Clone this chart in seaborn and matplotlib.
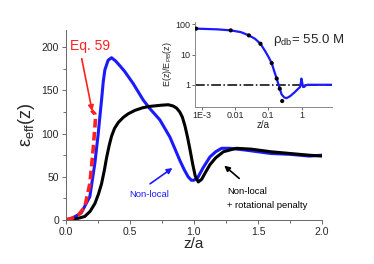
import numpy as np
import pandas as pd
import matplotlib
matplotlib.use('Agg')
import matplotlib.pyplot as plt
from matplotlib.ticker import MultipleLocator, FixedLocator, NullLocator, FormatStrFormatter
import seaborn as sb

# main panel: effective dielectric profile
z_nl = [0, 0.05, 0.12, 0.1875, 0.227, 0.253, 0.266, 0.279, 0.292, 0.305, 0.33, 0.357,
        0.39, 0.42, 0.46, 0.526, 0.604, 0.656, 0.734, 0.8125, 0.85, 0.89, 0.925, 0.955,
        0.98, 1.0, 1.03, 1.07, 1.125, 1.17, 1.216, 1.28, 1.4, 1.5, 1.6, 1.75, 1.9, 2.0]
eps_nl = [0, 2, 8, 27, 66, 100, 120, 139, 160, 174, 185, 188,
          184, 179, 172, 158, 139, 129, 116, 96, 83, 69, 58, 50,
          46, 46, 49, 60, 73, 79, 83, 83, 81, 79, 77, 76, 74, 75]

z_rot = [0, 0.05, 0.1, 0.148, 0.19, 0.227, 0.255, 0.279, 0.3, 0.318, 0.338, 0.357, 0.38,
         0.41, 0.45, 0.487, 0.54, 0.6, 0.65, 0.75, 0.8, 0.838, 0.865, 0.89, 0.91, 0.93,
         0.95, 0.97, 0.99, 1.01, 1.034, 1.06, 1.09, 1.125, 1.17, 1.23, 1.33, 1.45, 1.6,
         1.75, 1.9, 2.0]
eps_rot = [0, 1, 2, 4, 10, 19, 30, 42, 57, 72, 86, 97, 106,
           113, 119, 123, 127, 130, 131.5, 133, 133.5, 132, 129.5, 125, 119, 109,
           96, 81, 65, 51, 44, 47, 55, 64, 72, 79, 83, 82, 79,
           77, 75, 74]

z_eq = [0, 0.05, 0.1, 0.148, 0.1875, 0.213, 0.227, 0.232, 0.226, 0.2]
eps_eq = [0, 2, 6, 15, 42, 81, 108, 118, 123, 127]

# inset: E(z)/E_PB(z)
zi_line = [0.00062, 0.00068, 0.003, 0.0074, 0.015, 0.026, 0.04, 0.058, 0.08, 0.1, 0.126,
           0.15, 0.178, 0.2, 0.22, 0.25, 0.3, 0.35, 0.45, 0.6, 0.75, 0.9, 0.95, 0.98,
           1.02, 1.1, 1.2, 1.3, 1.5, 3, 8]
ratio_line = [73, 72, 68, 63, 55, 43, 33, 22.7, 13, 8.5, 5.2,
              2.8, 1.6, 1.05, 0.74, 0.48, 0.38, 0.36, 0.42, 0.55, 0.7, 0.85, 1.2, 1.6,
              1.3, 0.85, 0.85, 0.95, 1.0, 1.0, 1.0]
zi_dots = [0.00068, 0.0074, 0.026, 0.058, 0.126, 0.178, 0.22, 0.26]
ratio_dots = [72, 63, 43, 22.7, 5.2, 1.6, 0.74, 0.29]

sb.set_style('ticks')
plt.rcParams['font.family'] = ['Liberation Sans', 'DejaVu Sans']

fig = plt.figure(figsize=(3.74, 2.64), dpi=100)
ax = fig.add_axes([0.176, 0.167, 0.685, 0.719])

sb.lineplot(x=z_nl, y=eps_nl, ax=ax, color='#1a1aff', lw=2.2, sort=False)
sb.lineplot(x=z_rot, y=eps_rot, ax=ax, color='black', lw=2.2, sort=False)
sb.lineplot(x=z_eq, y=eps_eq, ax=ax, color='#ff2020', lw=2.6, sort=False,
            linestyle=(0, (2.4, 1.2)))

ax.set_xlim(0, 2.0)
ax.set_ylim(0, 220)
ax.xaxis.set_major_locator(MultipleLocator(0.5))
ax.xaxis.set_minor_locator(MultipleLocator(0.25))
ax.yaxis.set_major_locator(MultipleLocator(50))
ax.yaxis.set_minor_locator(MultipleLocator(25))
ax.xaxis.set_major_formatter(FormatStrFormatter('%.1f'))
ax.tick_params(labelsize=7.5, length=3, width=0.6, color='#555555', pad=2)
ax.tick_params(which='minor', length=2, width=0.6, color='#555555')
for s in ['top', 'right']:
    ax.spines[s].set_visible(False)
for s in ['left', 'bottom']:
    ax.spines[s].set_linewidth(0.7)
    ax.spines[s].set_color('#666666')
ax.set_xlabel('z/a', fontsize=11, labelpad=0)
ax.set_ylabel(r'ε$_{\mathregular{eff}}$(z)', fontsize=13, labelpad=3)

ax.text(0.19, 202, 'Eq. 59', color='#ff2020', fontsize=10, ha='center', va='center')
ax.annotate('', xy=(0.21, 123), xytext=(0.12, 190),
            arrowprops=dict(arrowstyle='-|>', color='#ff2020', lw=1.2, mutation_scale=8))
ax.text(0.65, 30, 'Non-local', color='#1a1aff', fontsize=6.8, ha='center', va='center')
ax.annotate('', xy=(0.85, 62), xytext=(0.64, 40),
            arrowprops=dict(arrowstyle='-|>', color='#1a1aff', lw=1.2, mutation_scale=8))
ax.text(1.26, 33, 'Non-local', color='black', fontsize=6.8, ha='left', va='center')
ax.text(1.26, 17, '+ rotational penalty', color='black', fontsize=6.8, ha='left', va='center')
ax.annotate('', xy=(1.22, 65), xytext=(1.37, 46),
            arrowprops=dict(arrowstyle='-|>', color='black', lw=1.2, mutation_scale=8))

# inset
ax2 = fig.add_axes([0.521, 0.595, 0.366, 0.322])
ax2.set_xscale('log')
ax2.set_yscale('log')
sb.lineplot(x=zi_line, y=ratio_line, ax=ax2, color='#1a1aff', lw=1.6, sort=False)
sb.scatterplot(x=zi_dots, y=ratio_dots, ax=ax2, color='black', s=9, edgecolor='none', zorder=3)
ax2.axhline(1, color='black', lw=1.1, linestyle='-.', zorder=1)
ax2.set_xlim(0.00062, 8)
ax2.set_ylim(0.185, 120)
ax2.xaxis.set_major_locator(FixedLocator([0.001, 0.01, 0.1, 1]))
ax2.xaxis.set_minor_locator(NullLocator())
ax2.set_xticklabels(['1E-3', '0.01', '0.1', '1'])
ax2.yaxis.set_major_locator(FixedLocator([1, 10, 100]))
ax2.yaxis.set_minor_locator(NullLocator())
ax2.set_yticklabels(['1', '10', '100'])
ax2.tick_params(labelsize=6.5, length=2, width=0.6, color='#555555', pad=1)
for s in ['top', 'right']:
    ax2.spines[s].set_visible(False)
for s in ['left', 'bottom']:
    ax2.spines[s].set_linewidth(0.7)
    ax2.spines[s].set_color('#888888')
ax2.patch.set_alpha(0)
ax2.set_xlabel('z/a', fontsize=7, labelpad=0)
ax2.set_ylabel(r'E(z)/E$_{\mathregular{PB}}$(z)', fontsize=6.5, labelpad=1)
ax2.text(0.14, 30, r'ρ$_{\mathregular{db}}$= 55.0 M', fontsize=9.5, ha='left', va='center')

fig.savefig('out.png', dpi=100)
